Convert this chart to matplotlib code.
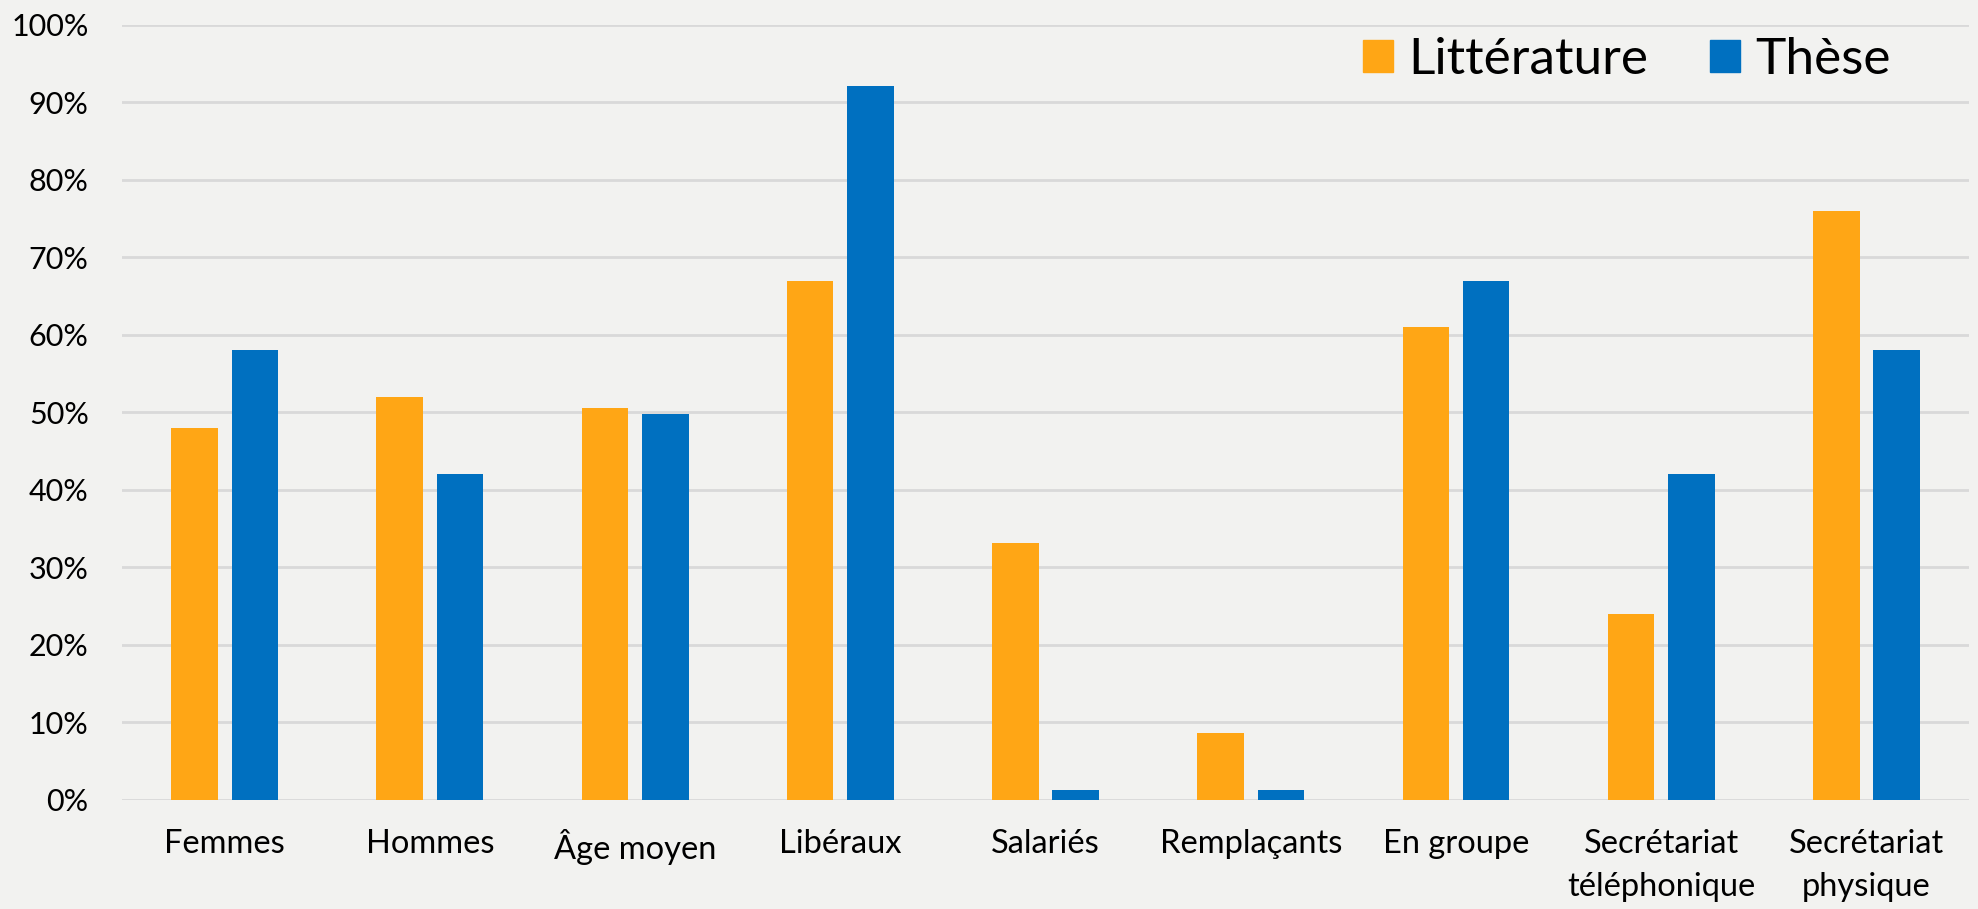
import matplotlib
matplotlib.use("Agg")
import matplotlib.pyplot as plt
import numpy as np
from matplotlib.patches import Patch

categories = ["Femmes", "Hommes", "Âge moyen", "Libéraux", "Salariés",
              "Remplaçants", "En groupe", "Secrétariat\ntéléphonique", "Secrétariat\nphysique"]
litterature = [48.0, 52.0, 50.6, 67.0, 33.1, 8.6, 61.0, 24.0, 76.0]
these = [58.0, 42.0, 49.8, 92.1, 1.3, 1.3, 67.0, 42.0, 58.0]
series_names = ["Littérature", "Thèse"]
yticks = list(range(0, 101, 10))
ytick_labels = [f"{v}%" for v in yticks]

plt.rcParams['font.family'] = ['Lato', 'DejaVu Sans']
bg = "#F2F2F0"
c_orange = "#FFA615"
c_blue = "#0070C0"

fig = plt.figure(figsize=(19.78, 9.09), dpi=100, facecolor=bg)
ax = fig.add_axes([0.0617, 0.12, 0.9338, 0.8525], facecolor=bg)

x = np.arange(len(categories))
w = 0.227
off = 0.147
ax.bar(x - off, litterature, width=w, color=c_orange, zorder=3)
ax.bar(x + off, these, width=w, color=c_blue, zorder=3)

ax.set_xlim(-0.5, len(categories) - 0.5)
ax.set_ylim(0, 100)
ax.set_yticks(yticks)
ax.set_yticklabels(ytick_labels, fontsize=22)
ax.set_xticks(x)
ax.set_xticklabels(categories, fontsize=23.5, linespacing=1.55)
ax.tick_params(axis='both', length=0)
ax.tick_params(axis='y', pad=24)
ax.tick_params(axis='x', pad=21)
ax.grid(axis='y', color="#D9D9D9", linewidth=2, zorder=0)
for s in ax.spines.values():
    s.set_visible(False)

handles = [Patch(color=c_orange), Patch(color=c_blue)]
fig.legend(handles, series_names, loc='center left', bbox_to_anchor=(0.689, 0.934),
           ncol=2, frameon=False, fontsize=37, handlelength=0.58, handleheight=0.58,
           handletextpad=0.3, columnspacing=1.2, borderpad=0, borderaxespad=0)

fig.savefig("out.png", dpi=100, facecolor=bg)
